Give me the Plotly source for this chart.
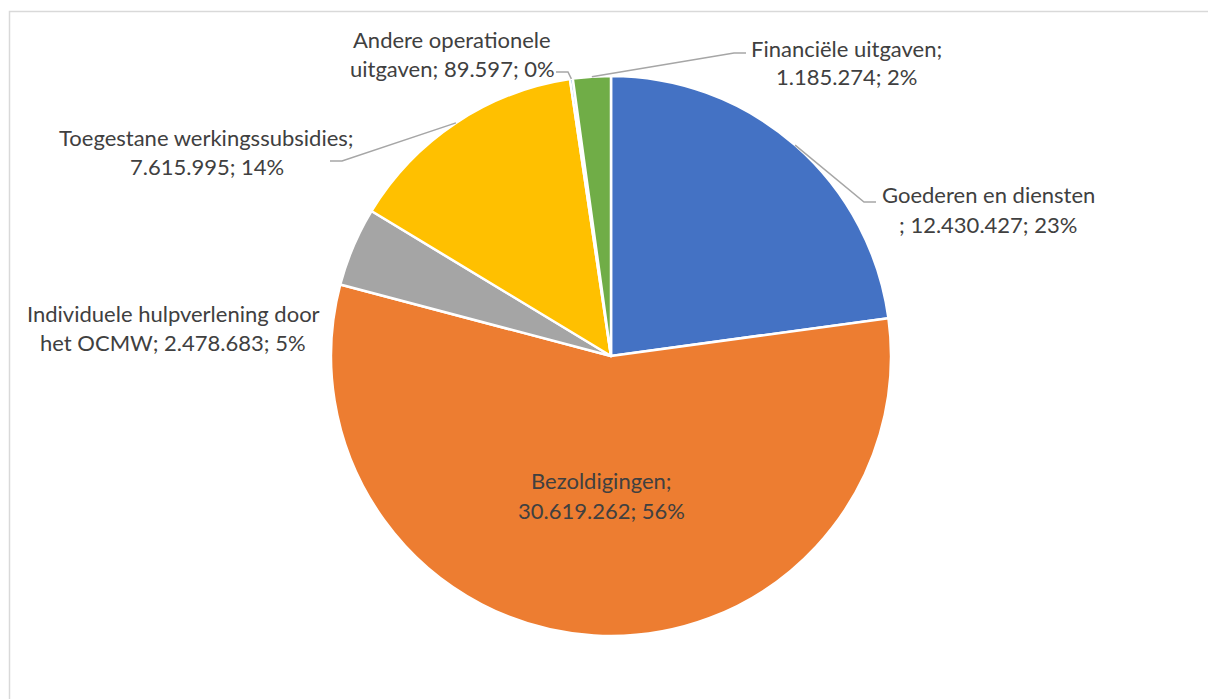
import math
import plotly.graph_objects as go

# ---- data (clockwise from 12 o'clock) ----
categories = [
    "Goederen en diensten",
    "Bezoldigingen",
    "Individuele hulpverlening door het OCMW",
    "Toegestane werkingssubsidies",
    "Andere operationele uitgaven",
    "Financiële uitgaven",
]
values = [12430427, 30619262, 2478683, 7615995, 89597, 1185274]
value_labels = ["12.430.427", "30.619.262", "2.478.683", "7.615.995", "89.597", "1.185.274"]
pct_labels = ["23%", "56%", "5%", "14%", "0%", "2%"]
colors = ["#4472C4", "#ED7D31", "#A5A5A5", "#FFC000", "#5B9BD5", "#70AD47"]

# label text lines as shown in the chart
label_lines = [
    ["Goederen en diensten", "; 12.430.427; 23%"],
    ["Bezoldigingen;", "30.619.262; 56%"],
    ["Individuele hulpverlening door", "het OCMW; 2.478.683; 5%"],
    ["Toegestane werkingssubsidies;", "7.615.995; 14%"],
    ["Andere operationele", "uitgaven; 89.597; 0%"],
    ["Financiële uitgaven;", "1.185.274; 2%"],
]

# ---- layout geometry (window pixels) ----
W, H = 1208, 699
CX, CY, R = 611, 356, 280

def px(x):
    return x / W

def py(y):
    return 1 - y / H

# label centres (first-line y) and leader elbows/ends (pixel positions)
label_pos = [(988, 195), (601, 481), (173, 313), (207, 137), (452, 39), (847, 48)]
line_gap = 29
leader = {
    0: [(864, 202), (876, 202)],
    3: [(342, 161), (330, 161)],
    4: [(568, 72), (556, 72)],
    5: [(734, 53), (746, 53)],
}

FONT = "Lato"
FS = 22
TXT = "#404040"
LINE = "#A6A6A6"

fig = go.Figure()
fig.add_trace(go.Pie(
    labels=categories,
    values=values,
    sort=False,
    direction="clockwise",
    rotation=0,
    marker=dict(colors=colors, line=dict(color="white", width=2.5)),
    textinfo="none",
    hoverinfo="label+value+percent",
    showlegend=False,
    domain=dict(x=[px(CX - R), px(CX + R)], y=[py(CY + R), py(CY - R)]),
))

annotations = []
for i, lines in enumerate(label_lines):
    x, y = label_pos[i]
    for k, t in enumerate(lines):
        annotations.append(dict(
            x=px(x), y=py(y + k * line_gap), xref="paper", yref="paper",
            text=t, showarrow=False, xanchor="center", yanchor="middle",
            font=dict(family=FONT, size=FS, color=TXT),
        ))

shapes = []
# leader lines start at slice midpoints on the pie edge, computed from data
total = sum(values)
cum = 0
for i, v in enumerate(values):
    mid = (cum + v / 2) / total * 2 * math.pi
    cum += v
    if i not in leader:
        continue
    sx = CX + R * math.sin(mid)
    sy = CY - R * math.cos(mid)
    pts = [(sx, sy)] + leader[i]
    path = "M " + " L ".join(f"{px(a)},{py(b)}" for a, b in pts)
    shapes.append(dict(type="path", path=path, xref="paper", yref="paper",
                       line=dict(color=LINE, width=1.5)))

# chart area border (right and bottom edges fall outside the picture)
shapes.append(dict(type="rect", xref="paper", yref="paper",
                   x0=px(9.5), y0=-0.05, x1=1.05, y1=py(11.5),
                   line=dict(color="#D9D9D9", width=1.5), fillcolor="rgba(0,0,0,0)",
                   layer="below"))

fig.update_layout(
    width=W, height=H,
    margin=dict(l=0, r=0, t=0, b=0),
    paper_bgcolor="white", plot_bgcolor="white",
    annotations=annotations, shapes=shapes,
)

fig.write_html(
    "out.html",
    config={"displayModeBar": False},
    post_script="document.body.style.margin='0';document.body.style.overflow='hidden';",
)
